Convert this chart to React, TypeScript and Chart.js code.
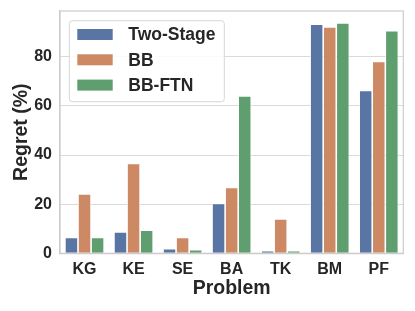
import React, { useEffect, useRef } from "react";
import { Chart, registerables } from "chart.js";

Chart.register(...registerables);

const categories = ["KG", "KE", "SE", "BA", "TK", "BM", "PF"];
const seriesNames = ["Two-Stage", "BB", "BB-FTN"];
const twoStage = [6.5, 8.7, 1.9, 20.3, 1.1, 93.2, 66.3];
const bb = [24.2, 36.6, 6.4, 26.8, 14.0, 92.1, 78.1];
const bbFtn = [6.5, 9.4, 1.5, 64.0, 1.1, 93.7, 90.6];
const yTicks = [0, 20, 40, 60, 80];
const colors = ["#5975a4", "#cc8963", "#5f9e6e"];

const FONT = '"Liberation Sans", Arial, sans-serif';
const TEXT = "#262626";

const framePlugin = {
  id: "frame",
  beforeDatasetsDraw(chart: any) {
    const { ctx, chartArea: a } = chart;
    ctx.save();
    ctx.strokeStyle = "#cccccc";
    ctx.lineWidth = 1.2;
    ctx.strokeRect(a.left, a.top, a.right - a.left, a.bottom - a.top);
    ctx.restore();
  },
};

const legendPlugin = {
  id: "boxLegend",
  afterDatasetsDraw(chart: any) {
    const { ctx, chartArea: a } = chart;
    const x0 = a.left + 9.3;
    const y0 = a.top + 9.7;
    const w = 155;
    const h = 81;
    ctx.save();
    ctx.beginPath();
    const r = 3;
    ctx.moveTo(x0 + r, y0);
    ctx.arcTo(x0 + w, y0, x0 + w, y0 + h, r);
    ctx.arcTo(x0 + w, y0 + h, x0, y0 + h, r);
    ctx.arcTo(x0, y0 + h, x0, y0, r);
    ctx.arcTo(x0, y0, x0 + w, y0, r);
    ctx.closePath();
    ctx.fillStyle = "rgba(255,255,255,0.85)";
    ctx.fill();
    ctx.strokeStyle = "#d6d6d6";
    ctx.lineWidth = 1;
    ctx.stroke();
    ctx.font = `bold 17.5px ${FONT}`;
    ctx.textBaseline = "middle";
    ctx.textAlign = "left";
    chart.data.datasets.forEach((ds: any, i: number) => {
      const cy = y0 + 13.8 + i * 25.3;
      ctx.fillStyle = ds.backgroundColor;
      ctx.fillRect(x0 + 8, cy - 5.5, 35.4, 11);
      ctx.fillStyle = TEXT;
      ctx.fillText(ds.label, x0 + 59, cy + 1);
    });
    ctx.restore();
  },
};

export default function App() {
  const ref = useRef<HTMLCanvasElement>(null);
  useEffect(() => {
    document.body.style.margin = "0";
    const seriesValues = [twoStage, bb, bbFtn];
    const chart = new Chart(ref.current!, {
      type: "bar",
      data: {
        labels: categories,
        datasets: seriesNames.map((name, i) => ({
          label: name,
          data: seriesValues[i],
          backgroundColor: colors[i],
          borderColor: "#ffffff",
          borderWidth: 0.8,
          categoryPercentage: 0.8,
          barPercentage: 1.0,
        })),
      },
      options: {
        animation: false,
        responsive: false,
        devicePixelRatio: 1,
        layout: { padding: { left: 0, right: 11.7, top: 11, bottom: 0 } },
        plugins: {
          legend: { display: false },
          tooltip: { enabled: false },
        },
        scales: {
          x: {
            grid: { display: false, drawTicks: false },
            border: { display: true, color: "#cccccc", width: 1.2 },
            ticks: {
              color: TEXT,
              font: { family: FONT, size: 16, weight: "bold" },
              padding: 7,
              maxRotation: 0,
            },
            title: {
              display: true,
              text: "Problem",
              color: TEXT,
              font: { family: FONT, size: 19.5, weight: "bold" },
              padding: { top: 0, bottom: 11 },
            },
            afterFit(scale: any) {
              scale.height = 57.7;
              scale.paddingLeft = 0;
              scale.paddingRight = 0;
            },
          },
          y: {
            min: 0,
            max: 98.6,
            grid: { color: "#dadada", lineWidth: 1, drawTicks: false },
            border: { display: true, color: "#cccccc", width: 1.2 },
            ticks: {
              color: TEXT,
              font: { family: FONT, size: 16, weight: "bold" },
              padding: 8,
            },
            afterBuildTicks(axis: any) {
              axis.ticks = yTicks.map((v) => ({ value: v }));
            },
            title: {
              display: true,
              text: "Regret (%)",
              color: TEXT,
              font: { family: FONT, size: 19.5, weight: "bold" },
              padding: { top: 10, bottom: 0 },
            },
            afterFit(scale: any) {
              scale.width = 60;
              scale.paddingTop = 0;
              scale.paddingBottom = 0;
            },
          },
        },
      },
      plugins: [framePlugin, legendPlugin],
    });
    return () => chart.destroy();
  }, []);
  return (
    <div style={{ width: 415, height: 311 }}>
      <canvas ref={ref} width={415} height={311} />
    </div>
  );
}
